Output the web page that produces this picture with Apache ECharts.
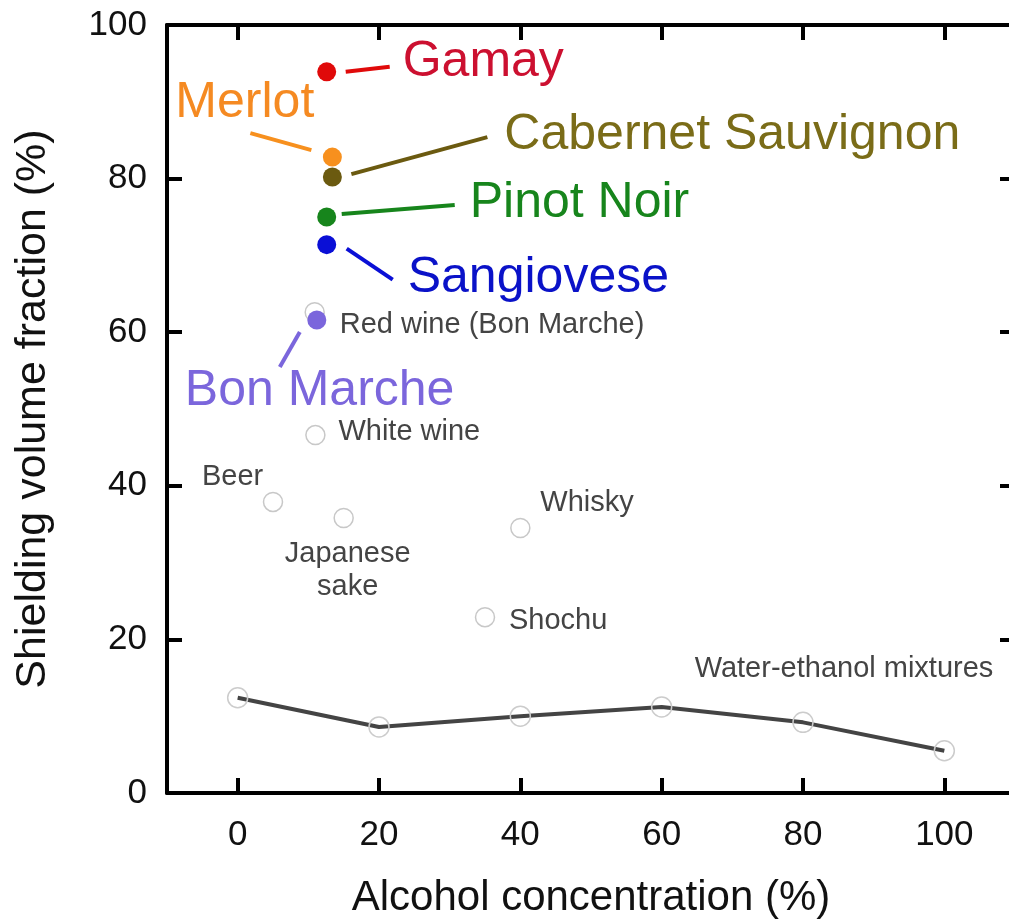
<!DOCTYPE html>
<html>
<head>
<meta charset="utf-8">
<script src="https://cdn.jsdelivr.net/npm/echarts@6/dist/echarts.min.js"></script>
<style>
html,body{margin:0;padding:0;background:#fff;}
#chart{width:1009px;height:923px;}
</style>
</head>
<body>
<div id="chart"></div>
<script>
// ---- data ----
const wineNames = ['Gamay', 'Merlot', 'Cabernet Sauvignon', 'Pinot Noir', 'Sangiovese', 'Bon Marche'];
const wineX = [12.6, 13.4, 13.4, 12.6, 12.6, 11.2];
const wineY = [93.9, 82.8, 80.2, 75.0, 71.4, 61.6];

const beverageNames = ['Red wine (Bon Marche)', 'White wine', 'Beer', 'Japanese\nsake', 'Whisky', 'Shochu'];
const beverageX = [10.9, 11, 5, 15, 40, 35];
const beverageY = [62.6, 46.6, 37.9, 35.8, 34.5, 22.9];

const mixtureName = 'Water-ethanol mixtures';
const mixtureX = [0, 20, 40, 60, 80, 100];
const mixtureY = [12.4, 8.6, 10.0, 11.2, 9.2, 5.5];

const xTicks = [0, 20, 40, 60, 80, 100];
const yTicks = [0, 20, 40, 60, 80, 100];
const xTitle = 'Alcohol concentration (%)';
const yTitle = 'Shielding volume fraction (%)';

// ---- styles / layout (pixel offsets relative to each point) ----
const FONT = '"Liberation Sans", Arial, sans-serif';
const wineDotColors = ['#e00a0a', '#f7901e', '#6b5a10', '#17851c', '#0a0fd6', '#7b66dc'];
const wineTextColors = ['#cc1030', '#f58a22', '#7a6c18', '#17851c', '#0a12c8', '#7b66dc'];
const wineLeader = [
  [[19, 0], [63, -5]],
  [[-82, -24], [-21, -7]],
  [[19, -3], [155, -40]],
  [[15, -3], [128, -12]],
  [[20, 4], [66, 35]],
  [[-37, 47], [-17, 12]]
];
const wineTextOffset = [[76, -10], [-157, -54], [172, -42], [143, -14], [81, 34], [-132, 71]];
const bevTextOffset = [[25, 13], [23, -3], [-71, -25], [4, 36], [20, -25], [24, 4]];
const bevTextAlign = ['left', 'left', 'left', 'center', 'left', 'left'];
const mixTextOffset = [49, -82];

const chart = echarts.init(document.getElementById('chart'), null, {renderer: 'canvas'});

const axisCommon = {
  type: 'value',
  splitLine: {show: false},
  axisLine: {show: true, onZero: false, lineStyle: {color: '#000', width: 4}},
  axisTick: {show: true, inside: true, length: 15, lineStyle: {color: '#000', width: 4}}
};

const option = {
  backgroundColor: '#fff',
  animation: false,
  grid: {left: 167, top: 25, width: 848, height: 768, containLabel: false, outerBoundsMode: 'none'},
  xAxis: [
    Object.assign({}, axisCommon, {
      min: -10, max: 110, position: 'bottom',
      axisTick: Object.assign({}, axisCommon.axisTick, {customValues: xTicks}),
      axisLabel: {show: true, customValues: xTicks, fontSize: 35, color: '#111', fontFamily: FONT, margin: 25},
      name: xTitle, nameLocation: 'middle', nameGap: 84,
      nameTextStyle: {fontSize: 42, color: '#111', fontFamily: FONT}
    }),
    Object.assign({}, axisCommon, {
      min: -10, max: 110, position: 'top',
      axisTick: Object.assign({}, axisCommon.axisTick, {customValues: xTicks}),
      axisLabel: {show: false}
    })
  ],
  yAxis: [
    Object.assign({}, axisCommon, {
      min: 0, max: 100, interval: 20, position: 'left',
      axisTick: Object.assign({}, axisCommon.axisTick, {customValues: yTicks}),
      axisLabel: {show: true, customValues: yTicks, fontSize: 35, color: '#111', fontFamily: FONT, margin: 20},
      name: yTitle, nameLocation: 'middle', nameGap: 112, nameRotate: 90,
      nameTextStyle: {fontSize: 43, color: '#111', fontFamily: FONT}
    }),
    Object.assign({}, axisCommon, {
      min: 0, max: 100, interval: 20, position: 'right',
      axisLine: {show: false, onZero: false},
      axisTick: Object.assign({}, axisCommon.axisTick, {customValues: yTicks}),
      axisLabel: {show: false}
    })
  ],
  series: [
    {
      name: mixtureName,
      type: 'line',
      data: mixtureX.map((v, i) => [v, mixtureY[i]]),
      symbol: 'circle', symbolSize: 20,
      itemStyle: {color: 'rgba(255,255,255,0)', borderColor: '#cccccc', borderWidth: 1.5, opacity: 1},
      lineStyle: {color: '#444', width: 4},
      z: 3
    },
    {
      name: 'beverages',
      type: 'scatter',
      data: beverageX.map((v, i) => [v, beverageY[i]]),
      symbol: 'circle', symbolSize: 19,
      itemStyle: {color: 'rgba(255,255,255,0)', borderColor: '#c8c8c8', borderWidth: 1.5, opacity: 1},
      z: 3
    },
    {
      name: 'wines',
      type: 'scatter',
      data: wineX.map((v, i) => ({value: [v, wineY[i]], itemStyle: {color: wineDotColors[i], opacity: 1}})),
      symbol: 'circle', symbolSize: 19,
      itemStyle: {opacity: 1},
      z: 4
    },
    {
      name: 'wineLabels',
      type: 'custom',
      coordinateSystem: 'cartesian2d',
      clip: false, silent: true, z: 5,
      data: wineX.map((v, i) => [v, wineY[i]]),
      renderItem: function (params, api) {
        const i = params.dataIndex;
        const p = api.coord([api.value(0), api.value(1)]);
        const l = wineLeader[i];
        const t = wineTextOffset[i];
        return {
          type: 'group',
          children: [
            {type: 'line', shape: {x1: p[0] + l[0][0], y1: p[1] + l[0][1], x2: p[0] + l[1][0], y2: p[1] + l[1][1]},
             style: {stroke: wineDotColors[i], lineWidth: 4}},
            {type: 'text', x: p[0] + t[0], y: p[1] + t[1],
             style: {text: wineNames[i], fill: wineTextColors[i], font: '50px ' + FONT, align: 'left', verticalAlign: 'middle'}}
          ]
        };
      }
    },
    {
      name: 'beverageLabels',
      type: 'custom',
      coordinateSystem: 'cartesian2d',
      clip: false, silent: true, z: 5,
      data: beverageX.map((v, i) => [v, beverageY[i]]),
      renderItem: function (params, api) {
        const i = params.dataIndex;
        const p = api.coord([api.value(0), api.value(1)]);
        const t = bevTextOffset[i];
        const lines = beverageNames[i].split('\n');
        return {
          type: 'group',
          children: lines.map((s, k) => ({
            type: 'text', x: p[0] + t[0], y: p[1] + t[1] + k * 33,
            style: {text: s, fill: '#444', font: '29px ' + FONT, align: bevTextAlign[i], verticalAlign: 'middle'}
          }))
        };
      }
    },
    {
      name: 'mixtureLabel',
      type: 'custom',
      coordinateSystem: 'cartesian2d',
      clip: false, silent: true, z: 5,
      data: [[mixtureX[mixtureX.length - 1], mixtureY[mixtureY.length - 1]]],
      renderItem: function (params, api) {
        const p = api.coord([api.value(0), api.value(1)]);
        return {
          type: 'text', x: p[0] + mixTextOffset[0], y: p[1] + mixTextOffset[1],
          style: {text: mixtureName, fill: '#444', font: '29px ' + FONT, align: 'right', verticalAlign: 'middle'}
        };
      }
    }
  ]
};
chart.setOption(option);
</script>
</body>
</html>
